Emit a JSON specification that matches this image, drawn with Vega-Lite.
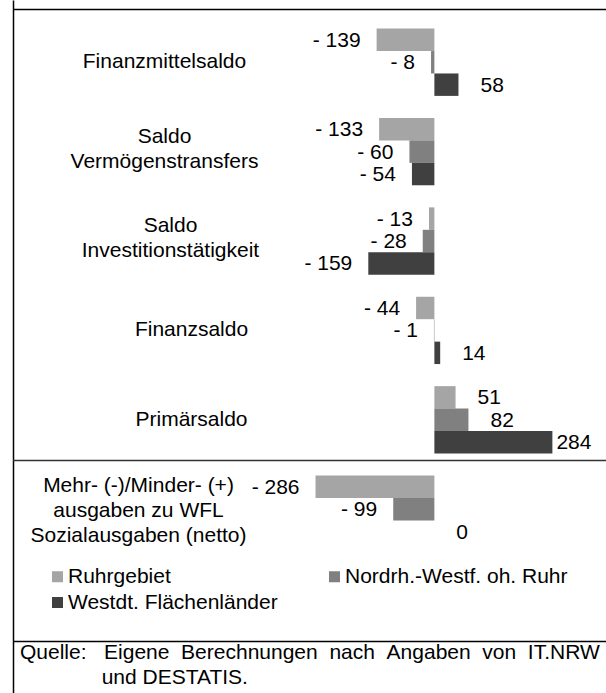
{
  "$schema": "https://vega.github.io/schema/vega-lite/v6.json",
  "width": 593,
  "height": 693,
  "padding": {"left": 13, "top": 0, "right": 0, "bottom": 0},
  "autosize": {"type": "none"},
  "background": "white",
  "config": {"view": {"stroke": null}, "font": "Liberation Sans"},
  "datasets": {
    "values": [
      {"cat": "Finanzmittelsaldo", "series": "Ruhrgebiet", "value": -139},
      {"cat": "Finanzmittelsaldo", "series": "Nordrh.-Westf. oh. Ruhr", "value": -8},
      {"cat": "Finanzmittelsaldo", "series": "Westdt. Flächenländer", "value": 58},
      {"cat": "Saldo\nVermögenstransfers", "series": "Ruhrgebiet", "value": -133},
      {"cat": "Saldo\nVermögenstransfers", "series": "Nordrh.-Westf. oh. Ruhr", "value": -60},
      {"cat": "Saldo\nVermögenstransfers", "series": "Westdt. Flächenländer", "value": -54},
      {"cat": "Saldo\nInvestitionstätigkeit", "series": "Ruhrgebiet", "value": -13},
      {"cat": "Saldo\nInvestitionstätigkeit", "series": "Nordrh.-Westf. oh. Ruhr", "value": -28},
      {"cat": "Saldo\nInvestitionstätigkeit", "series": "Westdt. Flächenländer", "value": -159},
      {"cat": "Finanzsaldo", "series": "Ruhrgebiet", "value": -44},
      {"cat": "Finanzsaldo", "series": "Nordrh.-Westf. oh. Ruhr", "value": -1},
      {"cat": "Finanzsaldo", "series": "Westdt. Flächenländer", "value": 14},
      {"cat": "Primärsaldo", "series": "Ruhrgebiet", "value": 51},
      {"cat": "Primärsaldo", "series": "Nordrh.-Westf. oh. Ruhr", "value": 82},
      {"cat": "Primärsaldo", "series": "Westdt. Flächenländer", "value": 284},
      {"cat": "Mehr- (-)/Minder- (+)\nausgaben zu WFL\nSozialausgaben (netto)", "series": "Ruhrgebiet", "value": -286},
      {"cat": "Mehr- (-)/Minder- (+)\nausgaben zu WFL\nSozialausgaben (netto)", "series": "Nordrh.-Westf. oh. Ruhr", "value": -99},
      {"cat": "Mehr- (-)/Minder- (+)\nausgaben zu WFL\nSozialausgaben (netto)", "series": "Westdt. Flächenländer", "value": 0}
    ],
    "sep": [
      {"cat": "Mehr- (-)/Minder- (+)\nausgaben zu WFL\nSozialausgaben (netto)"}
    ]
  },
  "title": {
    "text": [
      "Quelle:\u00a0\u00a0\u00a0Eigene \u00a0Berechnungen \u00a0nach \u00a0Angaben \u00a0von \u00a0IT.NRW",
      "\u200b\u00a0\u00a0\u00a0\u00a0\u00a0\u00a0\u00a0\u00a0\u00a0\u00a0\u00a0\u00a0\u00a0\u00a0und DESTATIS."
    ],
    "orient": "bottom",
    "anchor": "start",
    "frame": "group",
    "offset": -51,
    "dx": 7,
    "font": "Liberation Sans",
    "fontSize": 21,
    "fontWeight": "normal",
    "color": "black",
    "lineHeight": 25,
    "baseline": "top"
  },
  "layer": [
    {
      "data": {"name": "values"},
      "mark": {"type": "bar"},
      "encoding": {
        "y": {
          "field": "cat",
          "type": "nominal",
          "sort": null,
          "scale": {
            "domain": [
              "Finanzmittelsaldo",
              "Saldo\nVermögenstransfers",
              "Saldo\nInvestitionstätigkeit",
              "Finanzsaldo",
              "Primärsaldo",
              "Mehr- (-)/Minder- (+)\nausgaben zu WFL\nSozialausgaben (netto)"
            ],
            "paddingInner": 0.2472,
            "paddingOuter": 1.0169,
            "align": 0.16
          },
          "axis": {
            "title": null,
            "domain": true,
            "domainColor": "black",
            "domainWidth": 1.5,
            "ticks": false,
            "tickSize": 0,
            "grid": false,
            "labelFont": "Liberation Sans",
            "labelFontSize": 21,
            "labelColor": "black",
            "labelLimit": 0,
            "labelAlign": "center",
            "labelBaseline": "middle",
            "labelLineHeight": 25,
            "labelOverlap": false,
            "labelExpr": "split(datum.label, '\\n')",
            "labelOffset": {
              "condition": [
                {"test": "indexof(datum.value, 'Mehr') === 0", "value": -23},
                {"test": "indexof(datum.value, 'Saldo') === 0", "value": -15}
              ],
              "value": 0
            },
            "labelPadding": {
              "condition": [
                {"test": "datum.value === 'Finanzsaldo' || datum.value === 'Primärsaldo'", "value": -178},
                {"test": "indexof(datum.value, 'Mehr') === 0", "value": -125},
                {"test": "indexof(datum.value, 'Investition') > 0", "value": -157}
              ],
              "value": -151
            }
          }
        },
        "yOffset": {
          "field": "series",
          "type": "nominal",
          "sort": null,
          "scale": {
            "domain": ["Ruhrgebiet", "Nordrh.-Westf. oh. Ruhr", "Westdt. Flächenländer"],
            "paddingInner": 0,
            "paddingOuter": 0
          }
        },
        "x": {
          "field": "value",
          "type": "quantitative",
          "scale": {"domain": [-1014, 413], "nice": false, "zero": false},
          "axis": {
            "orient": "top",
            "offset": -9,
            "domain": true,
            "domainColor": "black",
            "domainWidth": 1.5,
            "ticks": false,
            "labels": false,
            "grid": false,
            "title": null
          }
        },
        "x2": {"datum": 0},
        "color": {
          "field": "series",
          "type": "nominal",
          "sort": null,
          "scale": {
            "domain": ["Ruhrgebiet", "Nordrh.-Westf. oh. Ruhr", "Westdt. Flächenländer"],
            "range": ["#a5a5a5", "#808080", "#404040"]
          },
          "legend": {
            "title": null,
            "orient": "none",
            "direction": "horizontal",
            "legendX": 34,
            "legendY": 566,
            "columns": 2,
            "columnPadding": 46,
            "rowPadding": 4,
            "padding": 0,
            "symbolType": "square",
            "symbolSize": 121,
            "symbolStrokeWidth": 0,
            "labelFont": "Liberation Sans",
            "labelFontSize": 21,
            "labelColor": "black",
            "labelLimit": 0,
            "labelOffset": 0
          }
        }
      }
    },
    {
      "data": {"name": "values"},
      "mark": {
        "type": "text",
        "font": "Liberation Sans",
        "fontSize": 21,
        "color": "black",
        "baseline": "middle",
        "dy": 1,
        "align": {"expr": "datum.value < 0 ? 'right' : 'left'"},
        "dx": {"expr": "datum.value < 0 ? -16 : (datum.value > 200 ? 4 : 22)"},
        "text": {"expr": "datum.value < 0 ? '- ' + (-datum.value) : '' + datum.value"}
      },
      "encoding": {
        "y": {"field": "cat", "type": "nominal", "sort": null},
        "yOffset": {"field": "series", "type": "nominal", "sort": null},
        "x": {
          "field": "value",
          "type": "quantitative",
          "axis": {
            "orient": "bottom",
            "offset": -52,
            "domain": true,
            "domainColor": "black",
            "domainWidth": 1.5,
            "ticks": false,
            "labels": false,
            "grid": false,
            "title": null
          }
        }
      }
    },
    {
      "data": {"name": "sep"},
      "mark": {"type": "rule", "color": "#333333", "strokeWidth": 1.5, "yOffset": -15},
      "encoding": {
        "y": {"field": "cat", "type": "nominal", "bandPosition": 0}
      }
    }
  ],
  "resolve": {"axis": {"x": "independent"}}
}
